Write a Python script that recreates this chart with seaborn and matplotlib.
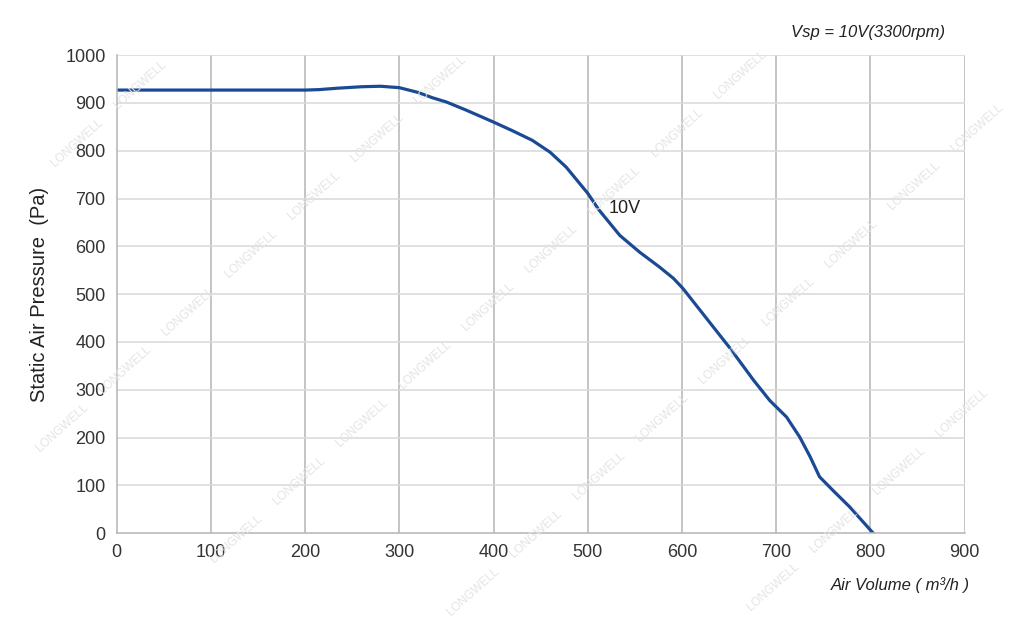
import numpy as np
import pandas as pd
import seaborn as sns
import matplotlib.pyplot as plt
from matplotlib.ticker import MultipleLocator

# fan curve at Vsp = 10V
air_volume = [0, 100, 200, 215, 235, 260, 280, 300, 320, 335, 350, 371, 400, 420, 441, 460,
              477, 500, 512, 534, 555, 576, 591, 601, 615, 633, 651, 676, 693, 711, 725,
              736, 746, 760, 778, 803]
static_pressure = [927, 927, 927, 928, 931, 934, 935, 932, 922, 911, 902, 885, 860, 842, 822, 797,
                   766, 711, 676, 623, 588, 557, 533, 512, 477, 432, 387, 320, 278, 243, 201,
                   160, 118, 90, 55, 0]
x_ticks = [0, 100, 200, 300, 400, 500, 600, 700, 800, 900]
y_ticks = [0, 100, 200, 300, 400, 500, 600, 700, 800, 900, 1000]

data = pd.DataFrame({"Air Volume": air_volume, "Static Air Pressure": static_pressure})

sns.set_style("white")
plt.rcParams['font.family'] = ['Liberation Sans', 'DejaVu Sans']

fig = plt.figure(figsize=(10.24, 6.2), dpi=100)
ax = fig.add_axes([0.114, 0.140, 0.828, 0.771])

# faint watermark, kept inside the figure
for i in range(-3, 6):
    for j in range(-1, 11):
        px = 740 + i * 300 - j * 63
        py = 75 - i * 5 + j * 58
        if 45 < px < 985 and 30 < py < 595:
            fig.text(px / 1024, 1 - py / 620, "LONGWELL", color="#e4e4e4", fontsize=8.5,
                     rotation=42, ha="center", va="center", zorder=0)

ax.set_facecolor("none")
sns.lineplot(data=data, x="Air Volume", y="Static Air Pressure", ax=ax,
             color="#1b4a94", linewidth=2.3, sort=True, errorbar=None)
ax.lines[0].set_solid_joinstyle("round")

ax.set_xlim(0, 900)
ax.set_ylim(0, 1000)
ax.set_xticks(x_ticks)
ax.set_yticks(y_ticks)
ax.xaxis.set_minor_locator(MultipleLocator(10))
ax.yaxis.set_minor_locator(MultipleLocator(20))

for x in x_ticks[1:]:
    ax.axvline(x, color="#b4b4b4", linewidth=1.1, zorder=0.5)
for y in y_ticks[1:]:
    ax.axhline(y, color="#d9d9d9", linewidth=1.1, zorder=0.5)

for s in ["top", "right"]:
    ax.spines[s].set_visible(False)
for s in ["left", "bottom"]:
    ax.spines[s].set_color("#b4b4b4")
    ax.spines[s].set_linewidth(1.1)

ax.tick_params(axis="both", which="major", direction="out", length=5, width=1,
               color="#b4b4b4", labelsize=13, labelcolor="#333333", pad=3)
ax.tick_params(axis="both", which="minor", direction="out", length=3, width=0.8,
               color="#c4c4c4")

ax.set_xlabel("")
ax.set_ylabel("Static Air Pressure  (Pa)", fontsize=14.5, color="#222222", labelpad=12)

ax.text(522, 680, "10V", fontsize=13, color="#222222", ha="left", va="center")
fig.text(945 / 1024, 1 - 32 / 620, "Vsp = 10V(3300rpm)", fontsize=12, style="italic",
         color="#222222", ha="right", va="center")
fig.text(970 / 1024, 1 - 585 / 620, "Air Volume ( m³/h )", fontsize=12, style="italic",
         color="#222222", ha="right", va="center")

fig.savefig("out.png", dpi=100)
